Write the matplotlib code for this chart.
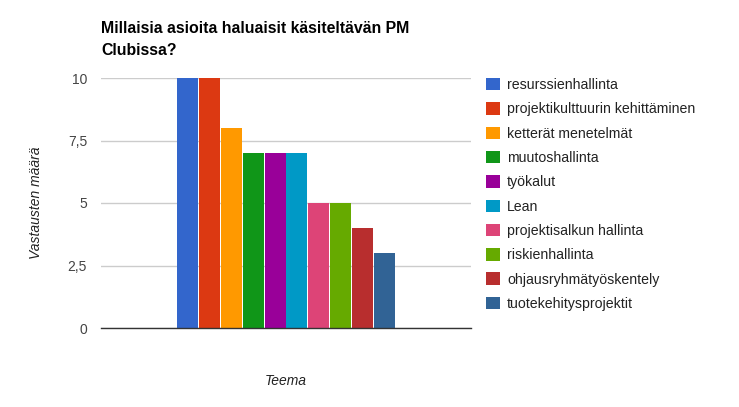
import matplotlib
matplotlib.use("Agg")
import matplotlib.pyplot as plt
from matplotlib.patches import Patch

plt.rcParams['font.family'] = ['Liberation Sans', 'DejaVu Sans']

title = "Millaisia asioita haluaisit käsiteltävän PM\nClubissa?"
series = ["resurssienhallinta", "projektikulttuurin kehittäminen", "ketterät menetelmät",
          "muutoshallinta", "työkalut", "Lean", "projektisalkun hallinta",
          "riskienhallinta", "ohjausryhmätyöskentely", "tuotekehitysprojektit"]
values = [10, 10, 8, 7, 7, 7, 5, 5, 4, 3]
colors = ["#3366cc", "#dc3912", "#ff9900", "#109618", "#990099",
          "#0099c6", "#dd4477", "#66aa00", "#b82e2e", "#316395"]
yticks = [0, 2.5, 5, 7.5, 10]
ytick_labels = ["0", "2,5", "5", "7,5", "10"]

W, H = 739, 407
fig = plt.figure(figsize=(W / 100, H / 100), dpi=100)
ax = fig.add_axes([101 / W, (H - 328) / H, 370 / W, 250 / H])

step = 0.0592
n = len(values)
for i, (v, c) in enumerate(zip(values, colors)):
    ax.bar((i - (n - 1) / 2) * step, v, width=step * 0.955, color=c, zorder=3)

ax.set_xlim(-0.5, 0.5)
ax.set_ylim(0, 10)
ax.set_yticks(yticks)
ax.set_yticklabels(ytick_labels, color="#444444", fontsize=10)
ax.set_xticks([])
ax.tick_params(axis='y', length=0, pad=10)
ax.grid(axis='y', color="#cccccc", linewidth=1, zorder=0)
for s in ["top", "right", "left"]:
    ax.spines[s].set_visible(False)
ax.spines["bottom"].set_color("#333333")
ax.spines["bottom"].set_linewidth(1)
ax.spines["bottom"].set_zorder(4)

ax.set_ylabel("Vastausten määrä", fontstyle="italic", fontsize=10, color="#222222", labelpad=18)
ax.set_xlabel("Teema", fontstyle="italic", fontsize=10, color="#222222", labelpad=33)

fig.text(101 / W, 1 - 21 / H, title, fontsize=11.4, fontweight="bold", color="#000000",
         va="top", ha="left", linespacing=1.6)

handles = [Patch(facecolor=c, edgecolor="none") for c in colors]
fig.legend(handles, series, loc="upper left", bbox_to_anchor=(486 / W, 1 - 78 / H),
           frameon=False, fontsize=10.2, handlelength=0.98, handleheight=0.98,
           handletextpad=0.5, labelspacing=0.72, borderpad=0, borderaxespad=0,
           labelcolor="#222222")

fig.savefig("out.png", dpi=100)
